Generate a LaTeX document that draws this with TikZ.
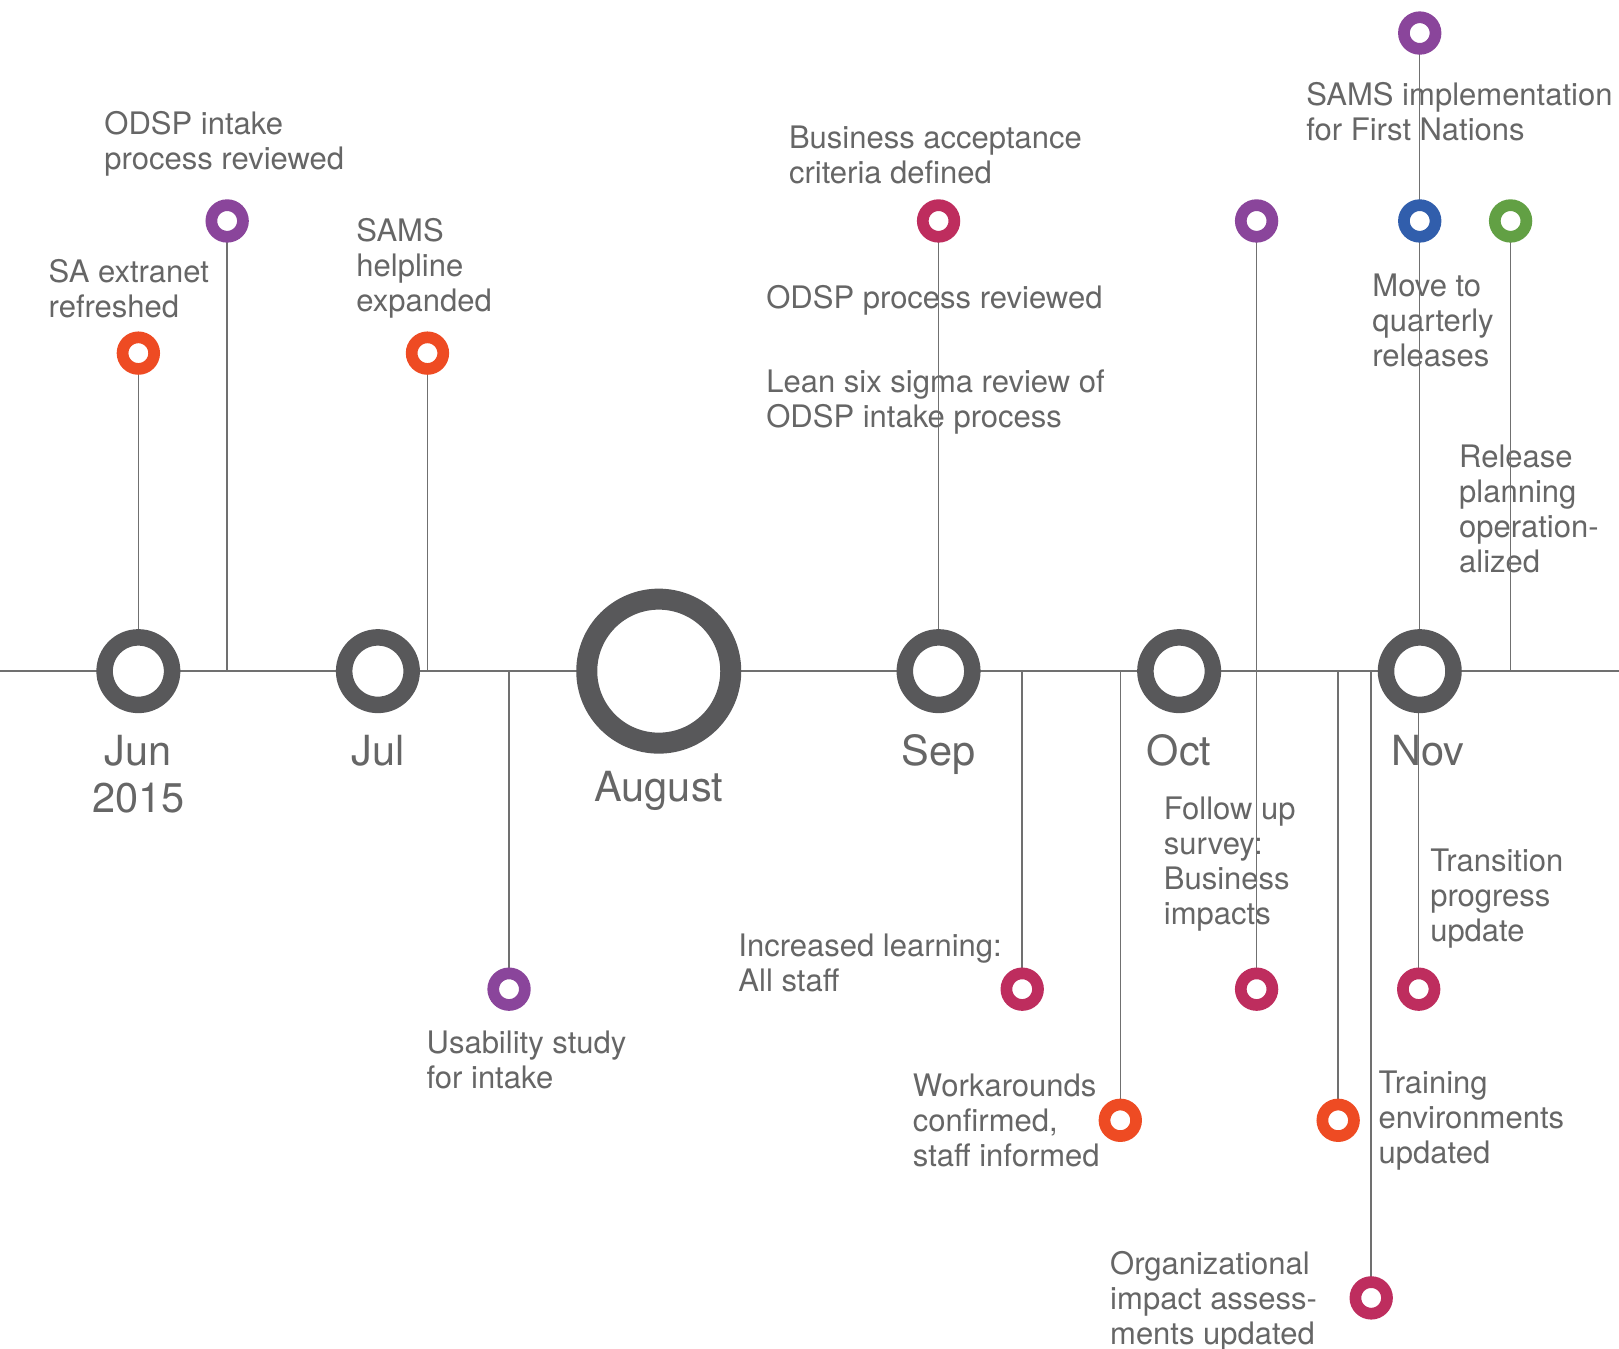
\documentclass[tikz,border=0pt]{standalone}
\usepackage{fontspec}
\setmainfont{TeX Gyre Heros}
\definecolor{ringgray}{HTML}{58585A}
\definecolor{linegray}{HTML}{707070}
\definecolor{txtgray}{HTML}{666666}
\definecolor{cOrange}{HTML}{EE4B23}
\definecolor{cPurple}{HTML}{8A459B}
\definecolor{cMagenta}{HTML}{BE2D5E}
\definecolor{cBlue}{HTML}{315EAC}
\definecolor{cGreen}{HTML}{62A044}
\begin{document}
\begin{tikzpicture}[x=1.0325pt,y=-1.0325pt,
  month/.style={circle,draw=ringgray,fill=white,line width=16.5pt,minimum size=67.5pt,inner sep=0pt},
  bigmonth/.style={circle,draw=ringgray,fill=white,line width=21pt,minimum size=144pt,inner sep=0pt},
  dot/.style={circle,draw=#1,fill=white,line width=11.7pt,minimum size=31.6pt,inner sep=0pt},
  lbl/.style={anchor=west,align=left,inner sep=0pt,text=txtgray,font=\fontsize{31}{35}\selectfont,
    execute at begin node=\strut, execute at end node=\strut},
  mlbl/.style={anchor=center,align=center,inner sep=0pt,text=txtgray,font=\fontsize{41.5}{47.5}\selectfont},
  axisline/.style={draw=linegray,line width=2.2pt},
  stem/.style={draw=linegray,line width=1.5pt}]
\useasboundingbox (0,0) rectangle (1568,1306);
% axis coordinates
\coordinate (axL) at (0,650);
\coordinate (axR) at (1568,650);
\coordinate (a2) at (220,650);
\coordinate (a3) at (414,650);
\coordinate (a4) at (493,650);
\coordinate (a6) at (990,650);
\coordinate (a7) at (1085,650);
\coordinate (a9) at (1296,650);
\coordinate (a10) at (1328,650);
\coordinate (a13) at (1463,650);
\coordinate (a14) at (1374,650);
% labels
\node[lbl] (t1) at (47,284) {SA extranet\\refreshed};
\node[lbl] (t2) at (101,141) {ODSP intake\\process reviewed};
\node[lbl] (t3) at (345,262) {SAMS\\helpline\\expanded};
\node[lbl] (t4) at (413,1031) {Usability study\\for intake};
\node[lbl] (t5a) at (764,154.5) {Business acceptance\\criteria defined};
\node[lbl] (t5b) at (742,292) {ODSP process reviewed};
\node[lbl] (t5c) at (742,391.5) {Lean six sigma review of\\ODSP intake process};
\node[lbl] (t6) at (715,937.5) {Increased learning:\\All staff};
\node[lbl] (t7) at (884,1090) {Workarounds\\confirmed,\\staff informed};
\node[lbl] (t8) at (1127,838.5) {Follow up\\survey:\\Business\\impacts};
\node[lbl] (t9) at (1335,1087.5) {Training\\environments\\updated};
\node[lbl] (t10) at (1075,1262) {Organizational\\impact assess-\\ments updated};
\node[lbl] (t11) at (1265,113) {SAMS implementation\\for First Nations};
\node[lbl] (t12) at (1329,315) {Move to\\quarterly\\releases};
\node[lbl] (t13) at (1413,497.5) {Release\\planning\\operation-\\alized};
\node[lbl] (t14) at (1385,872.5) {Transition\\progress\\update};
\node[mlbl] (mjun) at (134,750) {Jun\\2015};
\node[mlbl] (mjul) at (366,727) {Jul};
\node[mlbl] (maug) at (638,766) {August};
\node[mlbl] (msep) at (909,731) {Sep};
\node[mlbl] (moct) at (1142,727) {Oct};
\node[mlbl] (mnov) at (1383,727) {Nov};
% axis
\draw[axisline] (axL) -- (axR);
% event coordinates for stems
\coordinate (p1) at (134,342);
\coordinate (p2) at (220,214);
\coordinate (p3) at (414,342);
\coordinate (p4) at (493,958);
\coordinate (p5) at (909,214);
\coordinate (p6) at (990,958);
\coordinate (p7) at (1085,1085);
\coordinate (p8a) at (1217,214);
\coordinate (p8b) at (1217,958);
\coordinate (p9) at (1296,1085);
\coordinate (p10) at (1328,1257);
\coordinate (p11) at (1375,32);
\coordinate (p12) at (1375,214);
\coordinate (p13) at (1463,214);
\coordinate (p14) at (1374,958);
\coordinate (cjun) at (134,650);
\coordinate (csep) at (909,650);
\coordinate (cnov) at (1375,650);
% stems
\draw[stem] (p1) -- (cjun);
\draw[stem] (p2) -- (a2);
\draw[stem] (p3) -- (a3);
\draw[stem] (a4) -- (p4);
\draw[stem] (p5) -- (csep);
\draw[stem] (a6) -- (p6);
\draw[stem] (a7) -- (p7);
\draw[stem] (p8a) -- (p8b);
\draw[stem] (a9) -- (p9);
\draw[stem] (a10) -- (p10);
\draw[stem] (p11) -- (cnov);
\draw[stem] (p13) -- (a13);
\draw[stem] (a14) -- (p14);
% month rings
\node[month] (jun) at (cjun) {};
\node[month] (jul) at (366,650) {};
\node[bigmonth] (aug) at (638,650) {};
\node[month] (sep) at (csep) {};
\node[month] (oct) at (1142,650) {};
\node[month] (nov) at (cnov) {};
% event dots
\node[dot=cOrange] (d1) at (p1) {};
\node[dot=cPurple] (d2) at (p2) {};
\node[dot=cOrange] (d3) at (p3) {};
\node[dot=cPurple] (d4) at (p4) {};
\node[dot=cMagenta] (d5) at (p5) {};
\node[dot=cMagenta] (d6) at (p6) {};
\node[dot=cOrange] (d7) at (p7) {};
\node[dot=cPurple] (d8a) at (p8a) {};
\node[dot=cMagenta] (d8b) at (p8b) {};
\node[dot=cOrange] (d9) at (p9) {};
\node[dot=cMagenta] (d10) at (p10) {};
\node[dot=cPurple] (d11) at (p11) {};
\node[dot=cBlue] (d12) at (p12) {};
\node[dot=cGreen] (d13) at (p13) {};
\node[dot=cMagenta] (d14) at (p14) {};
\end{tikzpicture}
\end{document}
